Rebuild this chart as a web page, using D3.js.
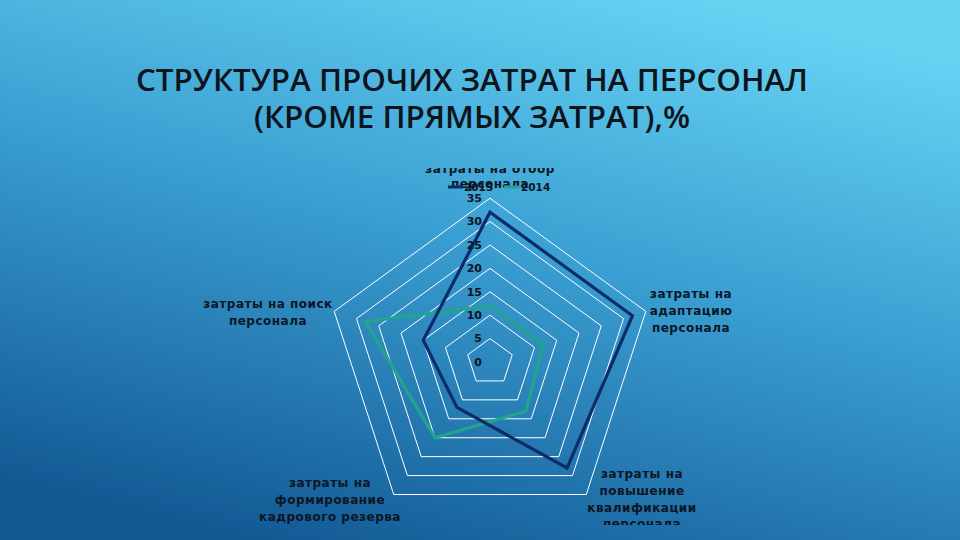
<!DOCTYPE html>
<html>
<head>
<meta charset="utf-8">
<script src="https://cdn.jsdelivr.net/npm/d3@7"></script>
<style>
  html, body { margin: 0; padding: 0; background: #2a8fc8; }
  svg { display: block; }
</style>
</head>
<body>
<svg id="chart" width="960" height="540"></svg>
<script>
// ---- data ----
const titleLines = ["СТРУКТУРА ПРОЧИХ ЗАТРАТ НА ПЕРСОНАЛ", "(КРОМЕ ПРЯМЫХ ЗАТРАТ),%"];
const categories = [
  "затраты на отбор персонала",
  "затраты на адаптацию персонала",
  "затраты на повышение квалификации персонала",
  "затраты на формирование кадрового резерва",
  "затраты на поиск персонала"
];
const categoryLabelLines = [
  ["затраты на отбор", "персонала"],
  ["затраты на", "адаптацию", "персонала"],
  ["затраты на", "повышение", "квалификации", "персонала"],
  ["затраты на", "формирование", "кадрового резерва"],
  ["затраты на поиск", "персонала"]
];
const seriesNames = ["2015", "2014"];
const values2015 = [32, 32, 28, 12, 15];
const values2014 = [12, 12, 13, 20, 28];
const tickValues = [0, 5, 10, 15, 20, 25, 30, 35];

// ---- setup ----
const svg = d3.select("#chart");
const W = 960, H = 540;
const cx = 490, cy = 362, R = 163.8;
const colors = { "2015": "#0c2b68", "2014": "#21a58c" };
const textColor = "#0c1624";

const defs = svg.append("defs");
const grad = defs.append("linearGradient").attr("id", "bg")
  .attr("x1", "0.72").attr("y1", "0").attr("x2", "0.28").attr("y2", "1");
grad.append("stop").attr("offset", "0").attr("stop-color", "#66d2f2");
grad.append("stop").attr("offset", "0.45").attr("stop-color", "#3a9fd2");
grad.append("stop").attr("offset", "1").attr("stop-color", "#135a95");
svg.append("rect").attr("width", W).attr("height", H).attr("fill", "url(#bg)");

// title
svg.append("g").selectAll("text").data(titleLines).join("text")
  .attr("x", 472)
  .attr("y", (d, i) => i === 0 ? 91 : 128)
  .attr("text-anchor", "middle")
  .attr("font-family", "'Open Sans', 'Noto Sans', sans-serif")
  .attr("font-weight", 600)
  .attr("font-size", 31)
  .attr("fill", "#0e141c")
  .attr("textLength", (d, i) => i === 0 ? 672 : 436)
  .attr("lengthAdjust", "spacingAndGlyphs")
  .text(d => d);

// scales
const r = d3.scaleLinear().domain([0, 35]).range([0, R]);
const angle = d3.scalePoint().domain(d3.range(categories.length + 1)).range([0, 2 * Math.PI]);
const radial = d3.lineRadial()
  .angle((d, i) => angle(i))
  .radius(d => r(d))
  .curve(d3.curveLinearClosed);

const g = svg.append("g").attr("transform", `translate(${cx},${cy})`);

// grid rings
g.append("g").selectAll("path").data(tickValues.filter(v => v > 0)).join("path")
  .attr("d", v => radial(categories.map(() => v)))
  .attr("fill", "none")
  .attr("stroke", "#ffffff")
  .attr("stroke-width", 1);

// series
const series = [
  { name: "2014", values: values2014 },
  { name: "2015", values: values2015 }
];
g.append("g").selectAll("path").data(series).join("path")
  .attr("d", s => radial(s.values))
  .attr("fill", "none")
  .attr("stroke", s => colors[s.name])
  .attr("stroke-width", 3.2)
  .attr("stroke-linejoin", "miter");

// tick labels
g.append("g").selectAll("text").data(tickValues).join("text")
  .attr("x", -8)
  .attr("y", v => -r(v))
  .attr("dy", "0.35em")
  .attr("text-anchor", "end")
  .attr("font-family", "'DejaVu Sans', sans-serif")
  .attr("font-weight", "bold")
  .attr("font-size", 11)
  .attr("fill", textColor)
  .text(v => v);

// category labels
const labelPos = [
  { x: 490, y: 173, clip: [0, 168, W, 100] },
  { x: 691, y: 298 },
  { x: 642, y: 478, clip: [0, 0, W, 525] },
  { x: 330, y: 487 },
  { x: 268, y: 308 }
];
labelPos.forEach((p, i) => {
  if (p.clip) {
    defs.append("clipPath").attr("id", "clip" + i)
      .append("rect").attr("x", p.clip[0]).attr("y", p.clip[1])
      .attr("width", p.clip[2]).attr("height", p.clip[3]);
  }
});
const labels = svg.append("g").selectAll("text").data(categories).join("text")
  .attr("text-anchor", "middle")
  .attr("font-family", "'DejaVu Sans', sans-serif")
  .attr("font-weight", "bold")
  .attr("font-size", 12)
  .attr("letter-spacing", 0.5)
  .attr("fill", textColor)
  .attr("clip-path", (d, i) => labelPos[i].clip ? `url(#clip${i})` : null);
labels.each(function (d, i) {
  const lines = categoryLabelLines[i];
  d3.select(this).selectAll("tspan").data(lines).join("tspan")
    .attr("x", labelPos[i].x)
    .attr("y", (l, j) => labelPos[i].y + j * (i === 0 ? 15 : 16.8))
    .text(l => l);
});

// legend
const legend = svg.append("g");
const legendItems = [
  { name: "2015", lx: 448, tx: 464 },
  { name: "2014", lx: 504, tx: 521 }
];
legendItems.forEach(it => {
  legend.append("line")
    .attr("x1", it.lx).attr("x2", it.lx + 15)
    .attr("y1", 187).attr("y2", 187)
    .attr("stroke", colors[it.name]).attr("stroke-width", 3);
  legend.append("text")
    .attr("x", it.tx).attr("y", 191)
    .attr("font-family", "'DejaVu Sans', sans-serif")
    .attr("font-weight", "bold")
    .attr("font-size", 10.5)
    .attr("fill", textColor)
    .text(it.name);
});
</script>
</body>
</html>
